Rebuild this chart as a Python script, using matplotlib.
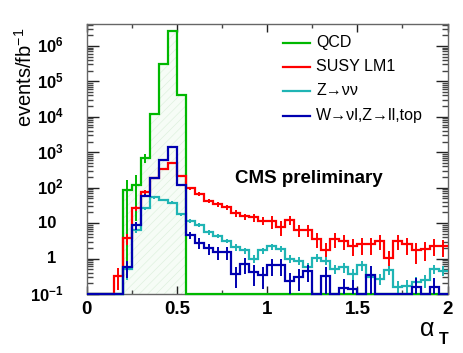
import numpy as np
import matplotlib
matplotlib.use('Agg')
import matplotlib.pyplot as plt
import matplotlib.transforms as mtransforms

plt.rcParams['font.family'] = ['Liberation Sans', 'DejaVu Sans']
plt.rcParams['mathtext.fontset'] = 'custom'
plt.rcParams['mathtext.rm'] = 'Liberation Sans'
plt.rcParams['mathtext.bf'] = 'Liberation Sans:bold'
plt.rcParams['mathtext.it'] = 'Liberation Sans:italic'
plt.rcParams['hatch.linewidth'] = 0.5

# ---------------- data (bins of 0.05 in alpha_T from 0 to 2) ----------------
bin_width = 0.05
n_bins = 40

qcd = [0, 0, 0, 0, 85, 118, 700, 1.2e4, 3e5, 2.6e6, 4e4] + [0] * 29
qcd_err = [0, 0, 0, 0, 0.99, 0.9, 0.3] + [0] * 33

susy = [0, 0, 0, 0.33, 3.7, 26, 76, 190, 330, 490,
        215, 95, 66, 43, 34, 28, 19, 15.5, 14.5, 11.7,
        11.7, 7.9, 12.3, 6.4, 6.4, 3.6, 1.75, 3.6, 3.2, 2.3,
        2.6, 2.6, 3.1, 1.05, 3.2, 2.6, 1.7, 1.9, 2.3, 2.2]
susy_err = [0, 0, 0, 0.6, 0.35, 0.15, 0.1, 0.08, 0.07, 0.07,
            0.08, 0.1, 0.12, 0.12, 0.15, 0.15, 0.2, 0.2, 0.25, 0.25,
            0.4, 0.45, 0.3, 0.35, 0.35, 0.45, 0.6, 0.45, 0.45, 0.5,
            0.5, 0.5, 0.45, 0.6, 0.45, 0.5, 0.6, 0.55, 0.5, 0.5]

znn = [0, 0, 0, 0, 0.5, 6.5, 26, 53, 45, 38,
       18, 11.7, 8.8, 5.5, 4.4, 3.2, 2.1, 1.7, 1.0, 1.7,
       2.2, 1.9, 0.98, 0.88, 0.57, 1.05, 0.88, 0.51, 0.57, 0.37,
       0.64, 0.30, 0.27, 0.48, 0.16, 0.17, 0.22, 0.25, 0.51, 0.46]
znn_err = [0, 0, 0, 0, 0.5, 0.2, 0.1, 0.08, 0.08, 0.08,
           0.1, 0.12, 0.12, 0.15, 0.15, 0.15, 0.2, 0.2, 0.25, 0.2,
           0.2, 0.2, 0.25, 0.25, 0.3, 0.25, 0.25, 0.3, 0.3, 0.35,
           0.3, 0.35, 0.35, 0.3, 0.45, 0.45, 0.4, 0.4, 0.3, 0.3]

wzt = [0, 0, 0, 0, 0.57, 8.8, 59, 190, 600, 1450,
       118, 4.6, 2.8, 1.95, 1.5, 1.5, 0.37, 0.71, 0.41, 0.35,
       0.64, 0.64, 0.24, 0.31, 0.45, 0, 0.33, 0, 0.15, 0.14,
       0, 0.35, 0, 0, 0, 0, 0.16, 0, 0.16, 0]
wzt_err = [0, 0, 0, 0, 0.5, 0.25, 0.1, 0.07, 0.05, 0.05,
           0.08, 0.25, 0.35, 0.35, 0.4, 0.4, 0.6, 0.5, 0.6, 0.6,
           0.5, 0.5, 0.6, 0.6, 0.5, 0, 0.75, 0, 0.75, 0.75,
           0, 0.75, 0, 0, 0, 0, 0.75, 0, 0.75, 0]

labels = ['QCD', 'SUSY LM1', 'Z\u2192\u03bd\u03bd', 'W\u2192\u03bdl,Z\u2192ll,top']
colors = ['#00b800', '#ff0000', '#1fb4b4', '#0000b0']

ytick_vals = [0.1, 1, 10, 1e2, 1e3, 1e4, 1e5, 1e6]
ytick_labels = [r'$\mathbf{10^{-1}}$', '1', '10', r'$\mathbf{10^{2}}$',
                r'$\mathbf{10^{3}}$', r'$\mathbf{10^{4}}$', r'$\mathbf{10^{5}}$',
                r'$\mathbf{10^{6}}$']
xtick_vals = [0, 0.5, 1, 1.5, 2]
xtick_labels = ['0', '0.5', '1', '1.5', '2']

# ---------------- figure ----------------
W, H = 463, 353
fig = plt.figure(figsize=(W / 100, H / 100), dpi=100)
ax = fig.add_axes([86.7 / W, 1 - 294 / H, 360.9 / W, 270 / H])

ymin, ymax = 0.1, 4.15e6
edges = np.arange(n_bins + 1) * bin_width
centers = edges[:-1] + bin_width / 2

def plot_hist(vals, errs, color, fill=False):
    v = np.asarray(vals, float)
    e = np.asarray(errs, float)
    vplot = np.where(v > 0, v, ymin)
    if fill:
        ax.stairs(vplot, edges, baseline=ymin, fill=True, facecolor='#f6fcf6',
                  edgecolor='#dff1df', hatch='////', linewidth=0, zorder=1)
    ax.stairs(vplot, edges, baseline=None, color=color, linewidth=1.6,
              zorder=3, clip_on=False)
    m = (v > 0) & (e > 0)
    ax.errorbar(centers[m], v[m], yerr=[v[m] * e[m], v[m] * e[m]], fmt='none',
                ecolor=color, elinewidth=1.4, capsize=0, zorder=3)

plot_hist(qcd, qcd_err, colors[0], fill=True)
plot_hist(susy, susy_err, colors[1])
plot_hist(znn, znn_err, colors[2])
plot_hist(wzt, wzt_err, colors[3])

ax.set_yscale('log')
ax.set_xlim(0, 2)
ax.set_ylim(ymin, ymax)

for s in ax.spines.values():
    s.set_color('#666666')
    s.set_linewidth(1.0)
    s.set_zorder(2.5)

ax.set_xticks(xtick_vals)
ax.set_xticks([0.25, 0.75, 1.25, 1.75], minor=True)
ax.set_xticklabels(xtick_labels, fontsize=13.5, fontweight='bold')
ax.tick_params(axis='x', which='major', direction='in', top=True, length=6, width=1, pad=5, color='#222222')
ax.tick_params(axis='x', which='minor', direction='in', top=True, length=3, width=1, color='#444444')

ax.set_yticks(ytick_vals)
ax.set_yticks([m * 10.0 ** d for d in range(-1, 7) for m in range(2, 10) if m * 10.0 ** d < ymax], minor=True)
ax.set_yticklabels([])
ax.yaxis.set_minor_formatter(matplotlib.ticker.NullFormatter())
ax.tick_params(axis='y', which='major', direction='in', right=True, length=8.5, width=1, color='#222222')
ax.tick_params(axis='y', which='minor', direction='in', right=True, length=4.3, width=1, color='#444444')

trans = mtransforms.blended_transform_factory(ax.transAxes, ax.transData)
for val, lab in zip(ytick_vals, ytick_labels):
    if lab.startswith('$'):
        xr = (64 - 86.7) / 360.9
    else:
        xr = (56 - 86.7) / 360.9
    ax.text(xr, val, lab, transform=trans, ha='right', va='center',
            fontsize=12, fontweight='bold', clip_on=False)

# axis titles
fig.text(25 / W, 1 - 77 / H, r'events/fb$^{\mathregular{-1}}$', rotation=90,
         ha='center', va='center', fontsize=14.5)
fig.text(427 / W, 1 - 329 / H, '\u03b1', ha='center', va='center', fontsize=18)
fig.text(444 / W, 1 - 339 / H, 'T', ha='center', va='center', fontsize=11.5,
         fontweight='bold')

# legend (manual)
rows_y = [42.7, 66.7, 90.7, 115.7]
for lab, col, py in zip(labels, colors, rows_y):
    ya = (294 - py) / 270
    ax.plot([(283.3 - 86.7) / 360.9, (310 - 86.7) / 360.9], [ya, ya],
            transform=ax.transAxes, color=col, linewidth=1.6, clip_on=False)
    ax.text((316 - 86.7) / 360.9, ya, lab, transform=ax.transAxes,
            ha='left', va='center', fontsize=11.5)

ax.text((235 - 86.7) / 360.9, (294 - 178) / 270, 'CMS preliminary',
        transform=ax.transAxes, ha='left', va='center', fontsize=13.5,
        fontweight='bold')

fig.savefig('out.png', dpi=100)
